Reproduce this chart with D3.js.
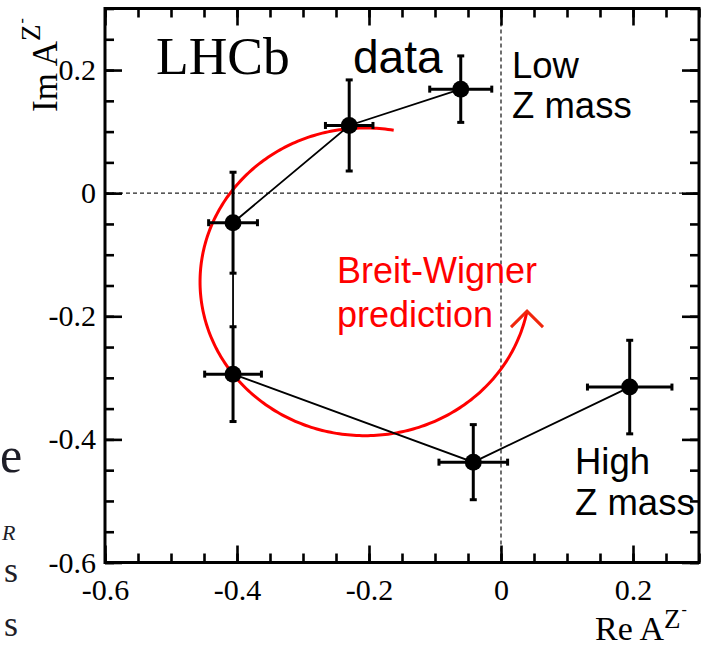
<!DOCTYPE html>
<html>
<head>
<meta charset="utf-8">
<script src="https://cdn.jsdelivr.net/npm/d3@7"></script>
<style>
  html, body { margin: 0; padding: 0; background: #fff; }
  svg { display: block; }
</style>
</head>
<body>
<svg id="chart" width="707" height="646"></svg>
<script>
// Measured amplitude points, ordered from low to high Z mass
const reA    = [-0.061, -0.230, -0.406, -0.406, -0.042, 0.195];
const reErr  = [ 0.047,  0.036,  0.037,  0.043,  0.052, 0.064];
const imA    = [ 0.169,  0.110, -0.048, -0.294, -0.437, -0.315];
const imErr  = [ 0.054,  0.074,  0.082,  0.077,  0.061, 0.076];

// Breit-Wigner circle in the complex plane: centre, radius, swept phase range (degrees)
const bwCentre = [-0.206, -0.144];
const bwRadius = 0.25;
const bwPhase  = [80, 349];

// Axis ticks
const majorTicks = [-0.6, -0.4, -0.2, 0, 0.2];
const xTickLabels = ["-0.6", "-0.4", "-0.2", "0", "0.2"];
const yTickLabels = ["-0.6", "-0.4", "-0.2", "0", "0.2"];
const minorTicks = d3.range(-12, 7).map(i => i * 0.05);

const serif = "'Liberation Serif', 'Times New Roman', serif";
const sans  = "'Liberation Sans', Arial, sans-serif";

const svg = d3.select("#chart");
const x = d3.scaleLinear().domain([-0.6, 0.3]).range([105, 699]);
const y = d3.scaleLinear().domain([-0.6, 0.3]).range([562.5, 8.5]);
const [x0, x1] = x.range();
const [y0, y1] = y.range();

// Zero lines
svg.append("line").attr("x1", x(0)).attr("x2", x(0)).attr("y1", y1).attr("y2", y0)
  .attr("stroke", "#222").attr("stroke-width", 1.3).attr("stroke-dasharray", "4,3");
svg.append("line").attr("x1", x0).attr("x2", x1).attr("y1", y(0)).attr("y2", y(0))
  .attr("stroke", "#222").attr("stroke-width", 1.3).attr("stroke-dasharray", "4,3");

// Breit-Wigner prediction arc
const phases = d3.range(bwPhase[0], bwPhase[1] + 0.5, 1);
const bwPts = phases.map(a => {
  const t = a * Math.PI / 180;
  return [bwCentre[0] + bwRadius * Math.cos(t), bwCentre[1] + bwRadius * Math.sin(t)];
});
svg.append("path")
  .attr("d", d3.line().x(d => x(d[0])).y(d => y(d[1])).curve(d3.curveLinear)(bwPts))
  .attr("fill", "none").attr("stroke", "#ff0000").attr("stroke-width", 3);

// Arrowhead at the end of the arc
const tip = bwPts[bwPts.length - 1];
const tx = x(tip[0]), ty = y(tip[1]);
svg.append("path")
  .attr("d", `M${tx - 16},${ty + 16} L${tx},${ty} L${tx + 16},${ty + 16}`)
  .attr("fill", "none").attr("stroke", "#f0260c").attr("stroke-width", 3);

// Connecting line through the measured points
const pts = reA.map((r, i) => ({ re: r, im: imA[i], dre: reErr[i], dim: imErr[i] }));
svg.append("path")
  .attr("d", d3.line().x(d => x(d.re)).y(d => y(d.im))(pts))
  .attr("fill", "none").attr("stroke", "#000").attr("stroke-width", 1.8);

// Error bars with end caps
const cap = 3.5;
const eb = svg.append("g").attr("stroke", "#000").attr("stroke-width", 3);
pts.forEach(d => {
  const cx = x(d.re), cy = y(d.im);
  const xl = x(d.re - d.dre), xr = x(d.re + d.dre);
  const yt = y(d.im + d.dim), yb = y(d.im - d.dim);
  eb.append("line").attr("x1", xl).attr("x2", xr).attr("y1", cy).attr("y2", cy);
  eb.append("line").attr("x1", cx).attr("x2", cx).attr("y1", yt).attr("y2", yb);
  eb.append("line").attr("x1", xl).attr("x2", xl).attr("y1", cy - cap).attr("y2", cy + cap);
  eb.append("line").attr("x1", xr).attr("x2", xr).attr("y1", cy - cap).attr("y2", cy + cap);
  eb.append("line").attr("x1", cx - cap).attr("x2", cx + cap).attr("y1", yt).attr("y2", yt);
  eb.append("line").attr("x1", cx - cap).attr("x2", cx + cap).attr("y1", yb).attr("y2", yb);
});

// Markers
svg.append("g").selectAll("circle").data(pts).join("circle")
  .attr("cx", d => x(d.re)).attr("cy", d => y(d.im)).attr("r", 8.5).attr("fill", "#000");

// Frame
svg.append("rect").attr("x", x0).attr("y", y1).attr("width", x1 - x0).attr("height", y0 - y1)
  .attr("fill", "none").attr("stroke", "#000").attr("stroke-width", 3);

// Inward ticks on all four sides
function tickAxis(gen, tx, ty, vals, len) {
  const g = svg.append("g").attr("transform", `translate(${tx},${ty})`)
    .call(gen.tickValues(vals).tickSize(-len).tickFormat(""));
  g.select(".domain").remove();
  g.selectAll("line").attr("stroke", "#000").attr("stroke-width", 2.6);
}
tickAxis(d3.axisBottom(x), 0, y0, minorTicks, 9);
tickAxis(d3.axisBottom(x), 0, y0, majorTicks, 17);
tickAxis(d3.axisTop(x), 0, y1, minorTicks, 9);
tickAxis(d3.axisTop(x), 0, y1, majorTicks, 17);
tickAxis(d3.axisLeft(y), x0, 0, minorTicks, 9);
tickAxis(d3.axisLeft(y), x0, 0, majorTicks, 17);
tickAxis(d3.axisRight(y), x1, 0, minorTicks, 9);
tickAxis(d3.axisRight(y), x1, 0, majorTicks, 17);

// Tick labels
const xl = svg.append("g").attr("transform", `translate(0,${y0})`)
  .call(d3.axisBottom(x).tickValues(majorTicks).tickSize(0).tickPadding(16)
    .tickFormat((d, i) => xTickLabels[i]));
xl.select(".domain").remove();
xl.selectAll("text").attr("font-family", serif).attr("font-size", 30).attr("fill", "#000");

const yl = svg.append("g").attr("transform", `translate(${x0},0)`)
  .call(d3.axisLeft(y).tickValues(majorTicks).tickSize(0).tickPadding(9)
    .tickFormat((d, i) => yTickLabels[i]));
yl.select(".domain").remove();
yl.selectAll("text").attr("font-family", serif).attr("font-size", 30).attr("fill", "#000");

// Axis titles
const xt = svg.append("text").attr("x", 595).attr("y", 640)
  .attr("font-family", serif).attr("font-size", 34).attr("fill", "#000");
xt.append("tspan").text("Re A");
xt.append("tspan").attr("font-size", 27).attr("dy", -12).text("Z");
xt.append("tspan").attr("font-size", 16).attr("dy", -13).attr("dx", 1).text("-");

const yt = svg.append("text").attr("transform", "translate(57,112) rotate(-90)")
  .attr("font-family", serif).attr("font-size", 35).attr("fill", "#000");
yt.append("tspan").text("Im A");
yt.append("tspan").attr("font-size", 27).attr("dy", -17).text("Z");
yt.append("tspan").attr("font-size", 16).attr("dy", -13).attr("dx", 1).text("-");

// Annotations
svg.append("text").attr("x", 156).attr("y", 73.5)
  .attr("font-family", serif).attr("font-size", 53.5).attr("fill", "#000").text("LHCb");
svg.append("text").attr("x", 353).attr("y", 73)
  .attr("font-family", sans).attr("font-size", 46).attr("fill", "#000").text("data");

function twoLines(tx, ty, lines, color, size, gap) {
  const t = svg.append("text").attr("font-family", sans).attr("font-size", size).attr("fill", color);
  lines.forEach((s, i) => t.append("tspan").attr("x", tx).attr("y", ty + i * gap).text(s));
}
twoLines(512, 77.5, ["Low", "Z mass"], "#000", 36.5, 40.5);
twoLines(575, 473.5, ["High", "Z mass"], "#000", 36.5, 41.5);
twoLines(337, 283, ["Breit-Wigner", "prediction"], "#ff0000", 36, 43.5);

// Neighbouring page text at the left margin
const margin = [
  { t: "e", x: 0, y: 472, size: 50, style: "normal" },
  { t: "R", x: 2, y: 540, size: 22, style: "italic" },
  { t: "s", x: 4, y: 582, size: 36, style: "normal" },
  { t: "s", x: 4, y: 636, size: 36, style: "normal" }
];
svg.append("g").selectAll("text").data(margin).join("text")
  .attr("x", d => d.x).attr("y", d => d.y)
  .attr("font-family", serif).attr("font-size", d => d.size).attr("font-style", d => d.style)
  .attr("fill", "#1e1e28").text(d => d.t);
</script>
</body>
</html>
